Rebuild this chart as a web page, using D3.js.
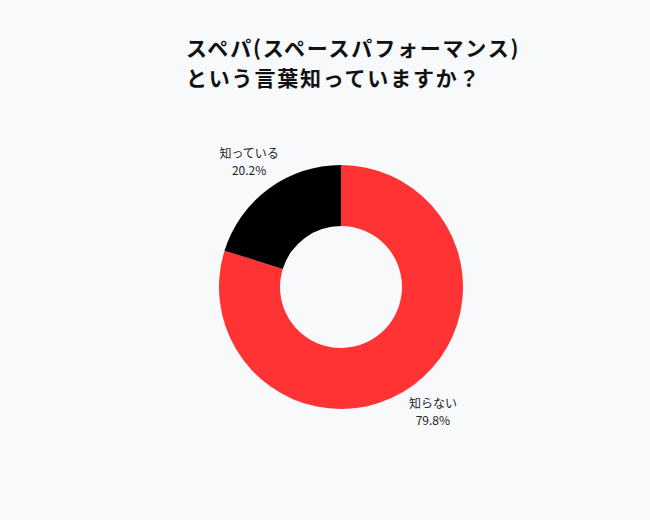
<!DOCTYPE html>
<html><head><meta charset="utf-8">
<script src="https://cdn.jsdelivr.net/npm/d3@7"></script>
<style>
html,body{margin:0;padding:0;background:#f8f9fb;}
svg{display:block;font-family:"Noto Sans CJK JP","Noto Sans",sans-serif;}
</style></head>
<body>
<svg id="c" width="650" height="520"></svg>
<script>
const categories = ["知らない", "知っている"];
const values = [79.8, 20.2];
const colors = ["#ff3333", "#000000"];
const titleLines = ["スペパ(スペースパフォーマンス)", "という言葉知っていますか？"];

const svg = d3.select("#c");
svg.append("rect").attr("width",650).attr("height",520).attr("fill","#f8f9fb");

const title = svg.append("text").attr("x",186).attr("y",56)
  .attr("font-size",21).attr("font-weight","bold").attr("letter-spacing",1.8).attr("fill","#111");
titleLines.forEach((t,i)=>title.append("tspan").attr("x",186).attr("dy", i===0?0:30).text(t));

const cx = 341, cy = 287, rOuter = 122, rInner = 61;
const g = svg.append("g").attr("transform",`translate(${cx},${cy})`);
const pie = d3.pie().sort(null).value(d=>d)(values);
const arc = d3.arc().innerRadius(rInner).outerRadius(rOuter);
g.selectAll("path").data(pie).join("path")
  .attr("d",arc).attr("fill",(d,i)=>colors[i]);

const labelArc = d3.arc().innerRadius(155).outerRadius(155);
pie.forEach((d,i)=>{
  const [x,y] = labelArc.centroid(d);
  const t = g.append("text").attr("text-anchor","middle").attr("font-size",12).attr("fill","#222");
  t.append("tspan").attr("x",x).attr("y",y-4).text(categories[i]);
  t.append("tspan").attr("x",x).attr("y",y+13).text(values[i].toFixed(1)+"%");
});
</script>
</body></html>
